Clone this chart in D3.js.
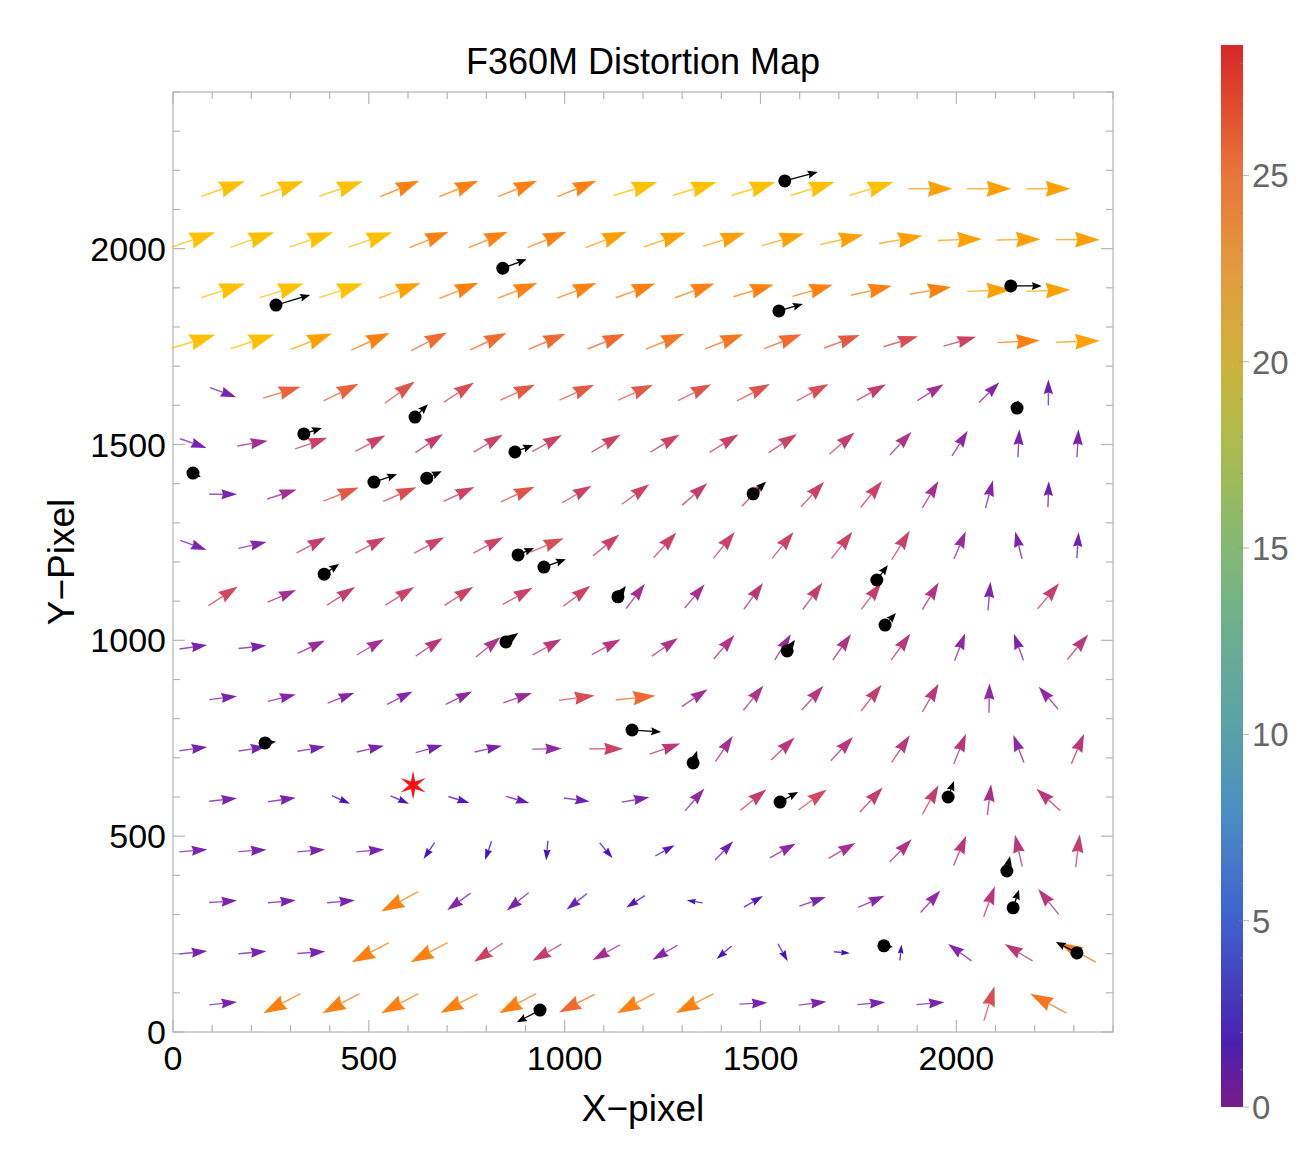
<!DOCTYPE html>
<html>
<head>
<meta charset="utf-8">
<script src="https://cdn.jsdelivr.net/npm/d3@7"></script>
<style>
body { margin: 0; background: #fff; }
text { font-family: "Liberation Sans", Arial, sans-serif; }
</style>
</head>
<body>
<svg></svg>
<script>

var screen = {width: 1303, height: 1171}
var plot = {left: 173, right: 1113, top: 92, bottom: 1032}

// grid of distortion vectors (rows listed top to bottom)
var rowY = [2153, 2023, 1893, 1763, 1633, 1503, 1373, 1243, 1113, 983, 853, 723, 593, 463, 333, 203, 73]
var xOdd = [128, 278, 429, 579, 730, 880, 1031, 1181, 1332, 1482, 1633, 1783, 1934, 2084, 2235]
var xEven = [52, 203, 353, 504, 654, 805, 955, 1106, 1256, 1407, 1557, 1708, 1858, 2009, 2159, 2310]

// direction of each vector, degrees counter-clockwise from +x
var rowAngles = [
    [19,19,19,22,22,22,22,17,17,17,17,17,0,0,0],
    [19,19,19,19,22,22,22,21,19,18,16,13,10,2,1,0],
    [18,18,18,20,22,21,21,20,20,17,16,13,10,2,2],
    [17,18,21,24,27,25,23,22,22,21,21,20,17,16,3,2],
    [-20,17,26,36,33,24,24,24,26,27,28,29,32,45,90],
    [-19,10,19,28,34,31,29,31,31,32,33,41,47,58,87,87],
    [0,18,21,23,25,24,30,36,41,46,47,51,59,75,88],
    [-20,13,28,28,28,28,23,39,48,51,51,52,58,67,104,86],
    [33,23,33,32,33,29,37,53,50,54,54,53,59,85,50],
    [8,6,25,30,34,39,29,28,35,49,58,55,54,69,110,50],
    [7,14,21,27,26,19,8,6,34,51,48,52,60,89,131],
    [8,9,10,13,16,13,1,0,19,56,44,47,56,68,111,67],
    [6,8,-24,-23,-17,-16,-8,10,49,39,36,47,61,83,137],
    [5,4,5,5,-124,-109,-95,-50,29,46,29,30,46,67,103,83],
    [4,5,5,-152,-144,-141,-142,-147,171,30,19,24,48,70,129],
    [6,5,4,-152,-152,-147,-150,-151,-150,-139,-61,-5,84,144,149,152],
    [6,-152,-152,-152,-153,-152,-153,-152,-153,3,7,5,5,73,152]
]

// size of each vector
var rowMags = [
    [27,27,27,23,23,23,23,27,27,27,27,27,25,25,25],
    [27,27,27,27,23,23,23,25,25,25,25,25,25,25,25,25],
    [27,27,27,25,23,23,23,23,23,23,23,23,23,25,25],
    [27,27,25,23,21,21,21,21,22,22,21,19,17,15,23,25],
    [7,20,20,18,17,19,19,19,18,18,17,14,11,8,6],
    [7,11,15,15,14,15,15,15,15,15,15,14,12,9,7,7],
    [7,11,19,17,15,18,15,15,14,14,15,15,11,8,6],
    [7,8,14,15,15,15,17,15,15,15,15,15,15,10,7,6],
    [16,11,14,15,15,15,15,11,11,13,14,14,12,8,14],
    [7,7,10,11,13,12,13,13,12,12,10,12,13,9,7,13],
    [7,8,8,8,9,10,17,21,11,12,13,14,13,9,9],
    [7,7,7,7,7,7,9,15,13,11,13,13,13,13,9,13],
    [7,7,3,3,4,5,6,7,9,14,16,14,14,11,13],
    [7,7,7,7,3,3,3,3,4,6,9,11,12,13,13,14],
    [7,7,7,23,8,7,6,4,2,4,7,8,9,13,13],
    [7,7,7,23,23,15,14,11,8,3,3,2,2,8,13,22],
    [7,23,23,23,23,23,21,23,23,7,7,7,7,17,22]
]

// measured stars: position and displacement
var starX = [1562, 842, 263, 2139, 1547, 2155, 618, 334, 873, 51, 513, 648, 1481, 881, 947, 386, 1136, 1797, 1818, 850, 1568, 235, 1172, 1328, 1550, 1979, 2129, 2145, 1815, 2308, 937]
var starY = [2173, 1950, 1856, 1905, 1841, 1593, 1570, 1527, 1481, 1427, 1404, 1414, 1374, 1218, 1187, 1169, 1111, 1154, 1039, 996, 973, 738, 771, 687, 587, 600, 411, 317, 220, 202, 56]
var starU = [84, 61, 87, 79, 61, 3, 33, 46, 46, 20, 59, 38, 33, 41, 56, 38, 20, 28, 28, 31, 20, 28, 74, 10, 46, 15, 8, 15, 23, -54, -59]
var starV = [23, 23, 26, 0, 18, 20, 33, 15, 18, -10, 20, 18, 31, 18, 20, 26, 28, 38, 31, 23, 28, 3, -5, 31, 26, 41, 38, 46, -3, 28, -31]

var refStar = {x: 613, y: 630}

var xTicks = [0, 500, 1000, 1500, 2000]
var yTicks = [0, 500, 1000, 1500, 2000]
var barTicks = [0, 5, 10, 15, 20, 25]
var barMax = 28.5

var setup = function ()
{
    var svg = d3.select("svg")
        .attr("width", screen.width)
        .attr("height", screen.height)

    var xScale = d3.scaleLinear().domain([0, 2400]).range([plot.left, plot.right])
    var yScale = d3.scaleLinear().domain([0, 2400]).range([plot.bottom, plot.top])

    var colScale = d3.scaleLinear()
        .domain([2, 4, 6, 8, 11, 13, 15, 17, 19, 21, 23, 25, 27])
        .range(["#3a10c8", "#5518bc", "#6e20b4", "#8526aa", "#a52f90", "#ba377a", "#cc4266",
                "#d84e55", "#e25a46", "#f06a30", "#ff8010", "#ffa000", "#ffc000"])
        .clamp(true)
    var lenScale = d3.scaleLinear()
        .domain([2, 3, 7, 15, 23, 27])
        .range([16, 20, 28, 34, 42, 46])
        .clamp(true)

    drawFrame(svg, xScale, yScale)

    var arrows = []
    rowY.forEach(function (y, r)
    {
        var xs = (r % 2 == 0) ? xOdd : xEven
        rowAngles[r].forEach(function (a, i)
        {
            arrows.push({x: xs[i], y: y, angle: a, mag: rowMags[r][i]})
        })
    })
    drawArrows(svg, arrows, xScale, yScale, colScale, lenScale)
    drawStars(svg, xScale, yScale)

    // reference position: six pointed star
    var pts = d3.range(12).map(function (i)
    {
        return [i * Math.PI / 6, (i % 2 == 0) ? 14.5 : 4.2]
    })
    svg.append("path")
        .attr("d", d3.lineRadial().curve(d3.curveLinearClosed)(pts))
        .attr("transform", "translate(" + xScale(refStar.x) + "," + yScale(refStar.y) + ")")
        .attr("fill", "#ff1010")

    drawColorbar(svg)

    svg.append("text")
        .attr("x", 643).attr("y", 74)
        .attr("text-anchor", "middle")
        .attr("font-size", 36)
        .text("F360M Distortion Map")
    svg.append("text")
        .attr("x", 643).attr("y", 1121)
        .attr("text-anchor", "middle")
        .attr("font-size", 37)
        .text("X\u2212pixel")
    svg.append("text")
        .attr("transform", "translate(74," + 562 + ")rotate(-90)")
        .attr("text-anchor", "middle")
        .attr("font-size", 37)
        .text("Y\u2212Pixel")
}

var drawFrame = function (svg, xScale, yScale)
{
    var g = svg.append("g").attr("id", "frame")
    var minor = d3.range(0, 2401, 100)

    minor.forEach(function (v)
    {
        var len = (v % 500 == 0) ? 12 : 7
        var x = xScale(v), y = yScale(v)
        g.append("line").attr("x1", x).attr("x2", x).attr("y1", plot.bottom).attr("y2", plot.bottom - len)
        g.append("line").attr("x1", x).attr("x2", x).attr("y1", plot.top).attr("y2", plot.top + len)
        g.append("line").attr("y1", y).attr("y2", y).attr("x1", plot.left).attr("x2", plot.left + len)
        g.append("line").attr("y1", y).attr("y2", y).attr("x1", plot.right).attr("x2", plot.right - len)
    })
    g.append("rect")
        .attr("x", plot.left).attr("y", plot.top)
        .attr("width", plot.right - plot.left).attr("height", plot.bottom - plot.top)
        .attr("fill", "none")
    g.selectAll("line,rect").attr("stroke", "#b4b4b4").attr("stroke-width", 1.2)

    g.selectAll(".xlab")
        .data(xTicks)
        .enter()
        .append("text")
        .attr("x", function (d) { return xScale(d) })
        .attr("y", 1070)
        .attr("text-anchor", "middle")
        .attr("font-size", 34)
        .text(function (d) { return d })
    g.selectAll(".ylab")
        .data(yTicks)
        .enter()
        .append("text")
        .attr("x", 166)
        .attr("y", function (d) { return yScale(d) + 12 })
        .attr("text-anchor", "end")
        .attr("font-size", 34)
        .text(function (d) { return d })
}

var drawArrows = function (svg, arrows, xScale, yScale, colScale, lenScale)
{
    var gs = svg.append("g").attr("id", "field")
        .selectAll("g")
        .data(arrows)
        .enter()
        .append("g")
        .attr("transform", function (d)
        {
            return "translate(" + xScale(d.x) + "," + yScale(d.y) + ")rotate(" + (-d.angle) + ")"
        })

    gs.append("line")
        .attr("x1", function (d) { return -lenScale(d.mag) / 2 })
        .attr("x2", function (d) { var L = lenScale(d.mag); return L / 2 - 0.5 * L })
        .attr("y1", 0).attr("y2", 0)
        .attr("stroke", function (d) { return colScale(d.mag) })
        .attr("stroke-opacity", 0.8)
        .attr("stroke-width", 1.4)

    gs.append("path")
        .attr("d", function (d)
        {
            var L = lenScale(d.mag), hl = 0.56 * L, hw = 0.18 * L
            return "M" + (L / 2) + ",0L" + (L / 2 - hl) + "," + (-hw) +
                "L" + (L / 2 - 0.9 * hl) + ",0L" + (L / 2 - hl) + "," + hw + "Z"
        })
        .attr("fill", function (d) { return colScale(d.mag) })
}

var drawStars = function (svg, xScale, yScale)
{
    var g = svg.append("g").attr("id", "stars")
    starX.forEach(function (x, i)
    {
        var x0 = xScale(x), y0 = yScale(starY[i])
        var x1 = xScale(x + starU[i]), y1 = yScale(starY[i] + starV[i])
        var len = Math.hypot(x1 - x0, y1 - y0)
        var ang = Math.atan2(y1 - y0, x1 - x0) * 180 / Math.PI
        var hl = Math.min(10, len), hw = 4
        var a = g.append("g").attr("transform", "translate(" + x0 + "," + y0 + ")rotate(" + ang + ")")
        a.append("line").attr("x1", 0).attr("x2", len - hl * 0.8).attr("y1", 0).attr("y2", 0)
            .attr("stroke", "#000").attr("stroke-width", 1.3)
        a.append("path")
            .attr("d", "M" + len + ",0L" + (len - hl) + "," + (-hw) + "L" + (len - 0.85 * hl) + ",0L" + (len - hl) + "," + hw + "Z")
            .attr("fill", "#000")
        g.append("circle").attr("cx", x0).attr("cy", y0).attr("r", 6.5).attr("fill", "#000")
    })
}

var drawColorbar = function (svg)
{
    var bar = {x: 1221, w: 22, top: 45, bottom: 1107}
    var cbScale = d3.scaleLinear().domain([0, barMax]).range([bar.bottom, bar.top])
    var rainbow = d3.scaleLinear()
        .domain([0, 0.06, 0.18, 0.28, 0.35, 0.45, 0.53, 0.62, 0.70, 0.79, 0.88, 1])
        .range(["#781c88", "#4a20b0", "#3f62cf", "#4a8fc2", "#58a0a8", "#6cb090", "#85b870",
                "#aabb50", "#cdb23c", "#e39a3e", "#e8743a", "#d92626"])

    var grad = svg.append("defs").append("linearGradient")
        .attr("id", "rainbow")
        .attr("x1", 0).attr("x2", 0).attr("y1", 1).attr("y2", 0)
    d3.range(0, 1.0001, 0.02).forEach(function (t)
    {
        grad.append("stop").attr("offset", t).attr("stop-color", rainbow(t))
    })

    svg.append("rect")
        .attr("x", bar.x).attr("y", bar.top)
        .attr("width", bar.w).attr("height", bar.bottom - bar.top)
        .attr("fill", "url(#rainbow)")

    var g = svg.append("g").attr("id", "barAxis")
    d3.range(0, 29, 1).forEach(function (v)
    {
        var major = v % 5 == 0
        g.append("line")
            .attr("x1", bar.x + bar.w - (major ? 4 : 3)).attr("x2", bar.x + bar.w + (major ? 6 : 0))
            .attr("y1", cbScale(v)).attr("y2", cbScale(v))
            .attr("stroke", "#888").attr("stroke-opacity", 0.6).attr("stroke-width", 1)
    })
    g.selectAll("text")
        .data(barTicks)
        .enter()
        .append("text")
        .attr("x", 1252)
        .attr("y", function (d) { return cbScale(d) + 12 })
        .attr("font-size", 33)
        .attr("fill", "#666")
        .text(function (d) { return d })
}

setup()

</script>
</body>
</html>
